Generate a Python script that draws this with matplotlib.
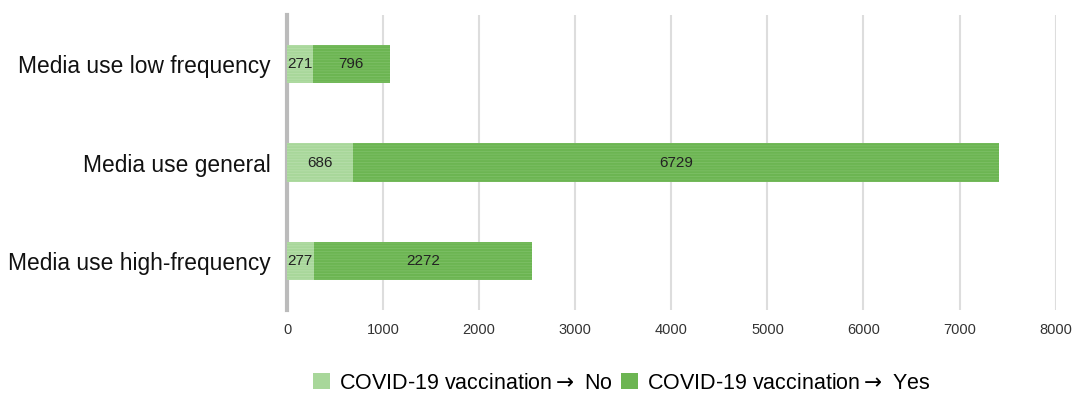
import matplotlib.pyplot as plt
from matplotlib.patches import Patch

categories = ["Media use low frequency", "Media use general", "Media use high-frequency"]
no_values = [271, 686, 277]
yes_values = [796, 6729, 2272]
series_labels = [r"COVID-19 vaccination$\rightarrow$ No", r"COVID-19 vaccination$\rightarrow$ Yes"]
x_ticks = [0, 1000, 2000, 3000, 4000, 5000, 6000, 7000, 8000]

plt.rcParams['font.family'] = ['Liberation Sans', 'DejaVu Sans']
plt.rcParams['hatch.linewidth'] = 0.6

light = "#a8d79a"
light_stripe = "#b6deaa"
dark = "#6cb552"
dark_stripe = "#7dbf66"

fig = plt.figure(figsize=(10.75, 3.99), dpi=100)
ax = fig.add_axes([0.267, 0.223, 0.715, 0.739])

ypos = list(range(len(categories)))
ax.barh(ypos, no_values, height=0.39, color=light, edgecolor=light_stripe,
        hatch='------', linewidth=0, zorder=3)
ax.barh(ypos, yes_values, left=no_values, height=0.39, color=dark, edgecolor=dark_stripe,
        hatch='------', linewidth=0, zorder=3)

for y, n, v in zip(ypos, no_values, yes_values):
    ax.text(n / 2, y, str(n), ha='center', va='center', fontsize=11, color='#222222', zorder=4)
    ax.text(n + v / 2, y, str(v), ha='center', va='center', fontsize=11, color='#222222', zorder=4)

ax.set_xlim(0, 8000)
ax.set_ylim(2.5, -0.5)
ax.set_xticks(x_ticks)
ax.set_xticklabels([str(t) for t in x_ticks], fontsize=10.5, color='#333333')
ax.set_yticks(ypos)
ax.set_yticklabels(categories, fontsize=16.4, color='#111111')
ax.tick_params(axis='both', length=0)
ax.tick_params(axis='x', pad=9)
ax.tick_params(axis='y', pad=12)

ax.grid(axis='x', color='#dddddd', linewidth=1.5, zorder=0)
for s in ['top', 'right', 'bottom']:
    ax.spines[s].set_visible(False)
ax.spines['left'].set_color('#bbbbbb')
ax.spines['left'].set_linewidth(3)

handles = [Patch(facecolor=light, edgecolor='none'), Patch(facecolor=dark, edgecolor='none')]
fig.legend(handles, series_labels, loc='center', bbox_to_anchor=(0.578, 0.04), ncol=2,
           frameon=False, fontsize=15.5, handlelength=0.8, handleheight=0.8,
           handletextpad=0.4, columnspacing=0.4)

fig.savefig("out.png", dpi=100, facecolor='white')
